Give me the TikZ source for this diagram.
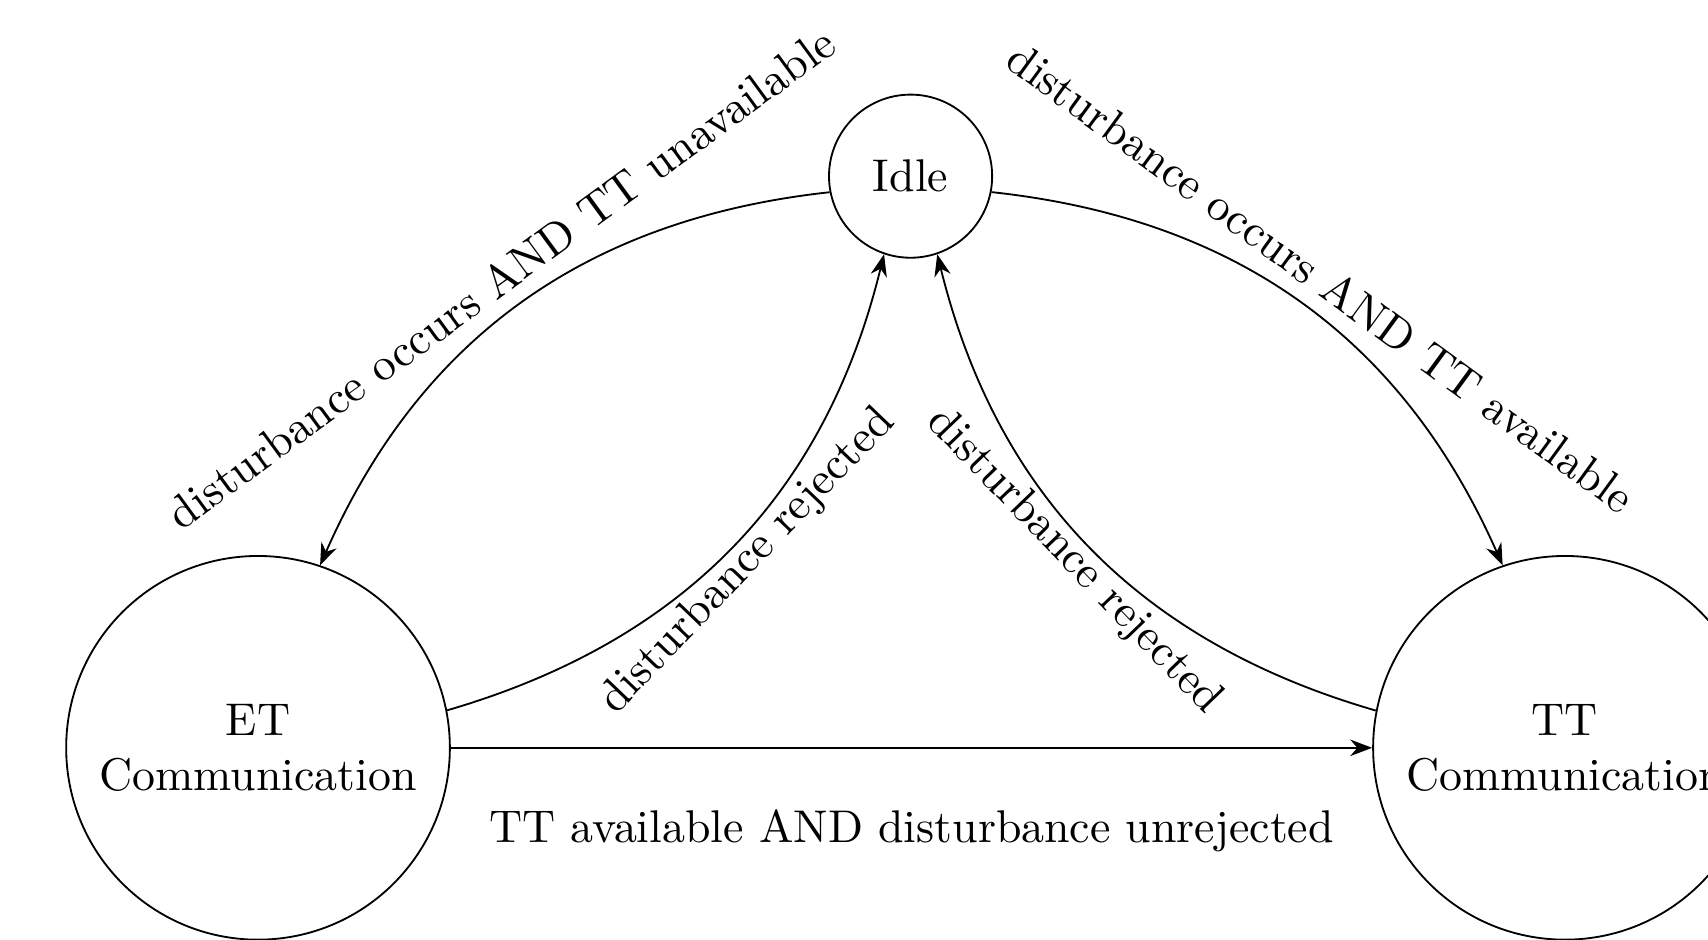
\documentclass[tikz,border=0pt]{standalone}
\usetikzlibrary{arrows.meta,positioning}
\tikzset{
  commstate/.style={draw, circle, minimum size=2.94cm, align=center, inner sep=1pt},
  idlestate/.style={draw, circle, minimum size=1.25cm, inner sep=1pt},
  trans/.style={-{Stealth}},
  rejlabel/.style={below, sloped, inner sep=0pt},
}
\begin{document}
\begin{tikzpicture}
\clip (-1.977,-1.471) rectangle (11.11,5.73);
\node[commstate] (et) at (0,0) {ET\\Communication};
\node[commstate, right=7.06cm of et] (tt) {TT\\Communication};
\node[idlestate] (idle) at (5,4.38) {Idle};
\draw[trans] (idle) to[bend right] node[above, sloped] {disturbance occurs AND TT unavailable} (et);
\draw[trans] (idle) to[bend left] node[above, sloped] {disturbance occurs AND TT available} (tt);
\draw[trans] (et) to[bend right] node[rejlabel] {disturbance rejected} (idle);
\draw[trans] (tt) to[bend left] node[rejlabel] {disturbance rejected} (idle);
\draw[trans] (et) -- node[below=3.5mm] {TT available AND disturbance unrejected} (tt);
\end{tikzpicture}
\end{document}
